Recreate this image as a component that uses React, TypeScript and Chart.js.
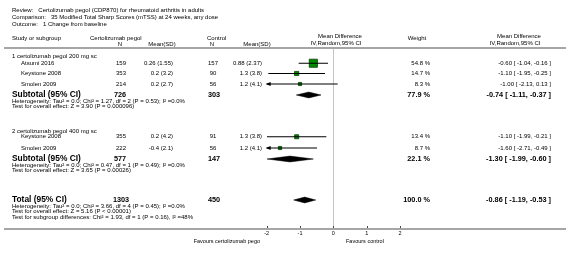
import React, { useEffect, useRef } from "react";
import { Chart, registerables } from "chart.js";
Chart.register(...registerables);

// ---------- data ----------
const titleLines = [
  "Review:   Certolizumab pegol (CDP870) for rheumatoid arthritis in adults",
  "Comparison:   35 Modified Total Sharp Scores (mTSS) at 24 weeks, any dose",
  "Outcome:   1 Change from baseline",
];
const subgroupNames = ["1 certolizumab pegol 200 mg sc", "2 certolizumab pegol 400 mg sc"];
const studyNames = ["Atsumi 2016", "Keystone 2008", "Smolen 2009", "Keystone 2008", "Smolen 2009"];
const expN = [159, 353, 214, 355, 222];
const expMeanSD = ["0.26 (1.55)", "0.2 (3.2)", "0.2 (2.7)", "0.2 (4.2)", "-0.4 (2.1)"];
const ctlN = [157, 90, 56, 91, 56];
const ctlMeanSD = ["0.88 (2.37)", "1.3 (3.8)", "1.2 (4.1)", "1.3 (3.8)", "1.2 (4.1)"];
const studyWeight = [54.8, 14.7, 8.3, 13.4, 8.7];
const studyMD = [-0.6, -1.1, -1.0, -1.1, -1.6];
const studyLo = [-1.04, -1.95, -2.13, -1.99, -2.71];
const studyHi = [-0.16, -0.25, 0.13, -0.21, -0.49];

const subExpN = [726, 577];
const subCtlN = [303, 147];
const subWeight = [77.9, 22.1];
const subMD = [-0.74, -1.3];
const subLo = [-1.11, -1.99];
const subHi = [-0.37, -0.6];
const subHet = [
  "Heterogeneity: Tau² = 0.0; Chi² = 1.27, df = 2 (P = 0.53); I² =0.0%",
  "Heterogeneity: Tau² = 0.0; Chi² = 0.47, df = 1 (P = 0.49); I² =0.0%",
];
const subTest = [
  "Test for overall effect: Z = 3.90 (P = 0.000096)",
  "Test for overall effect: Z = 3.65 (P = 0.00026)",
];

const totalExpN = 1303;
const totalCtlN = 450;
const totalWeight = 100.0;
const totalMD = -0.86;
const totalLo = -1.19;
const totalHi = -0.53;
const totalNotes = [
  "Heterogeneity: Tau² = 0.0; Chi² = 3.66, df = 4 (P = 0.45); I² =0.0%",
  "Test for overall effect: Z = 5.16 (P < 0.00001)",
  "Test for subgroup differences: Chi² = 1.93, df = 1 (P = 0.16), I² =48%",
];

const xTicks = [-2, -1, 0, 1, 2];
const favoursLeft = "Favours certolizumab pego";
const favoursRight = "Favours control";

// ---------- layout (row positions in row units, column x in px) ----------
const ROW_TITLE = [-7.6, -6.15, -4.75];
const ROW_HEAD1 = -2.0;
const ROW_HEAD2 = -0.65;
const ROW_SUBHDR = [1.7, 16.6];
const ROW_STUDY = [3.05, 5.1, 7.2, 17.75, 20.0];
const ROW_SUBTOTAL = [9.4, 22.2];
const ROW_SUBHET = [10.6, 23.45];
const ROW_SUBTEST = [11.7, 24.55];
const ROW_TOTAL = 30.4;
const ROW_TOTALNOTES = [31.6, 32.7, 33.8];
const ROW_TICKLABEL = 37.1;
const ROW_FAVOURS = 38.6;

const FONT = "'Liberation Sans', Arial, sans-serif";
const fmt2 = (v: number) => (v < 0 ? "-" : "") + Math.abs(v).toFixed(2);
const ciText = (m: number, l: number, h: number) => `${fmt2(m)} [ ${fmt2(l)}, ${fmt2(h)} ]`;

const X_MIN = -2;
const X_MAX = 2;
const DIAMOND_HALF = 0.58;

function diamond(m: number, l: number, h: number, y: number) {
  return [
    { x: l, y },
    { x: m, y: y - DIAMOND_HALF },
    { x: h, y },
    { x: m, y: y + DIAMOND_HALF },
    { x: l, y },
  ];
}

const forestPlugin = {
  id: "forest",
  beforeDatasetsDraw(chart: any) {
    const { ctx, chartArea, scales } = chart;
    const x0 = scales.x.getPixelForValue(0);
    ctx.save();
    ctx.strokeStyle = "#c4c4c4";
    ctx.lineWidth = 1;
    ctx.beginPath();
    ctx.moveTo(Math.round(x0) + 0.5, chartArea.top);
    ctx.lineTo(Math.round(x0) + 0.5, chartArea.bottom);
    ctx.stroke();
    ctx.restore();
  },
  afterDraw(chart: any) {
    const { ctx, chartArea, scales } = chart;
    const xs = scales.x;
    const ys = scales.y;
    const Y = (r: number) => ys.getPixelForValue(r);
    ctx.save();

    // rules
    ctx.fillStyle = "#a6a6a6";
    ctx.fillRect(4, chartArea.top - 1, 566 - 4, 2);
    ctx.fillRect(4, chartArea.bottom, 566 - 4, 2);

    // arrows for clipped CIs
    ctx.fillStyle = "#000";
    studyLo.forEach((l, i) => {
      const y = Y(ROW_STUDY[i]);
      if (l < X_MIN) {
        const px = xs.getPixelForValue(X_MIN);
        ctx.beginPath();
        ctx.moveTo(px - 1, y);
        ctx.lineTo(px + 4, y - 2);
        ctx.lineTo(px + 4, y + 2);
        ctx.closePath();
        ctx.fill();
      }
      if (studyHi[i] > X_MAX) {
        const px = xs.getPixelForValue(X_MAX);
        ctx.beginPath();
        ctx.moveTo(px + 1, y);
        ctx.lineTo(px - 4, y - 2);
        ctx.lineTo(px - 4, y + 2);
        ctx.closePath();
        ctx.fill();
      }
    });

    // ticks
    ctx.strokeStyle = "#444";
    ctx.lineWidth = 1;
    xTicks.forEach((t) => {
      const px = Math.round(xs.getPixelForValue(t)) + 0.5;
      ctx.beginPath();
      ctx.moveTo(px, chartArea.bottom - 2);
      ctx.lineTo(px, chartArea.bottom);
      ctx.stroke();
    });

    const text = (s: string, x: number, y: number, align: CanvasTextAlign, size: number, bold = false) => {
      ctx.font = `${bold ? "bold " : ""}${size}px ${FONT}`;
      ctx.textAlign = align;
      ctx.textBaseline = "middle";
      ctx.fillStyle = "#000";
      ctx.fillText(s, x, y);
    };
    const S = 6;
    const B = 7.3;
    const BL = 8.4;

    xTicks.forEach((t) => text(String(t), xs.getPixelForValue(t), Y(ROW_TICKLABEL), "center", 5.5));
    text(favoursLeft, 260, Y(ROW_FAVOURS), "right", 5.5);
    text(favoursRight, 346, Y(ROW_FAVOURS), "left", 5.5);

    ROW_TITLE.forEach((r, i) => text(titleLines[i], 12, Y(r), "left", S));

    text("Study or subgroup", 12, Y(ROW_HEAD1), "left", S);
    text("Certolizumab pegol", 90, Y(ROW_HEAD1), "left", S);
    text("N", 120, Y(ROW_HEAD2), "center", S);
    text("Mean(SD)", 162, Y(ROW_HEAD2), "center", S);
    text("Control", 207, Y(ROW_HEAD1), "left", S);
    text("N", 212, Y(ROW_HEAD2), "center", S);
    text("Mean(SD)", 257, Y(ROW_HEAD2), "center", S);
    text("Mean Difference", 340, Y(ROW_HEAD1 - 0.3), "center", S);
    text("IV,Random,95% CI", 336, Y(ROW_HEAD2 - 0.3), "center", S);
    text("Weight", 417, Y(ROW_HEAD1), "center", S);
    text("Mean Difference", 519, Y(ROW_HEAD1 - 0.3), "center", S);
    text("IV,Random,95% CI", 515, Y(ROW_HEAD2 - 0.3), "center", S);

    subgroupNames.forEach((n, g) => {
      text(n, 12, Y(ROW_SUBHDR[g]), "left", S);
      const ys2 = Y(ROW_SUBTOTAL[g]);
      text("Subtotal (95% CI)", 12, ys2, "left", BL, true);
      text(String(subExpN[g]), 120, ys2, "center", B, true);
      text(String(subCtlN[g]), 214, ys2, "center", B, true);
      text(`${subWeight[g].toFixed(1)} %`, 430, ys2, "right", B, true);
      text(ciText(subMD[g], subLo[g], subHi[g]), 551, ys2, "right", B, true);
      text(subHet[g], 12, Y(ROW_SUBHET[g]), "left", S);
      text(subTest[g], 12, Y(ROW_SUBTEST[g]), "left", S);
    });

    studyNames.forEach((n, i) => {
      const y = Y(ROW_STUDY[i]);
      text(n, 21, y, "left", S);
      text(String(expN[i]), 121, y, "center", S);
      text(expMeanSD[i], 173, y, "right", S);
      text(String(ctlN[i]), 213, y, "center", S);
      text(ctlMeanSD[i], 262, y, "right", S);
      text(`${studyWeight[i].toFixed(1)} %`, 430, y, "right", S);
      text(ciText(studyMD[i], studyLo[i], studyHi[i]), 551, y, "right", S);
    });

    const yt = Y(ROW_TOTAL);
    text("Total (95% CI)", 12, yt, "left", BL, true);
    text(String(totalExpN), 121, yt, "center", B, true);
    text(String(totalCtlN), 214, yt, "center", B, true);
    text(`${totalWeight.toFixed(1)} %`, 430, yt, "right", B, true);
    text(ciText(totalMD, totalLo, totalHi), 551, yt, "right", B, true);
    totalNotes.forEach((s, i) => text(s, 12, Y(ROW_TOTALNOTES[i]), "left", S));

    ctx.restore();
  },
};

export default function App() {
  const ref = useRef<HTMLCanvasElement>(null);
  useEffect(() => {
    const canvas = ref.current!;
    const ciSets = studyNames.map((_, i) => ({
      type: "line" as const,
      data: [
        { x: studyLo[i], y: ROW_STUDY[i] },
        { x: studyHi[i], y: ROW_STUDY[i] },
      ],
      borderColor: "#000",
      borderWidth: 1,
      pointRadius: 0,
      showLine: true,
      fill: false,
      clip: 0,
      order: 0,
    }));
    const boxSet = {
      type: "scatter" as const,
      data: studyMD.map((m, i) => ({ x: m, y: ROW_STUDY[i] })),
      pointStyle: "rect",
      pointRadius: studyWeight.map((w) => (1.1 * Math.sqrt(w)) / Math.SQRT2),
      backgroundColor: "#008a00",
      borderColor: "#003d00",
      borderWidth: 0.8,
      order: 1,
    };
    const diamondSets = [
      ...subMD.map((m, g) => diamond(m, subLo[g], subHi[g], ROW_SUBTOTAL[g])),
      diamond(totalMD, totalLo, totalHi, ROW_TOTAL),
    ].map((d) => ({
      type: "line" as const,
      data: d,
      borderColor: "#000",
      backgroundColor: "#000",
      borderWidth: 0.5,
      pointRadius: 0,
      showLine: true,
      fill: "shape",
      tension: 0,
      order: 0,
    }));

    const chart = new Chart(canvas, {
      type: "scatter",
      data: { datasets: [...ciSets, boxSet, ...diamondSets] as any },
      options: {
        animation: false,
        responsive: false,
        maintainAspectRatio: false,
        layout: { padding: { left: 266.67, right: 166, top: 48, bottom: 32 } },
        scales: {
          x: { type: "linear", min: X_MIN, max: X_MAX, display: false },
          y: { type: "linear", min: 0, max: 36, reverse: true, display: false },
        },
        plugins: { legend: { display: false }, tooltip: { enabled: false } },
        events: [],
      } as any,
      plugins: [forestPlugin],
    });
    return () => chart.destroy();
  }, []);
  return (
    <div style={{ position: "fixed", left: 0, top: 0, width: 566, height: 260, background: "#fff" }}>
      <canvas ref={ref} width={566} height={260} style={{ width: 566, height: 260, display: "block" }} />
    </div>
  );
}
